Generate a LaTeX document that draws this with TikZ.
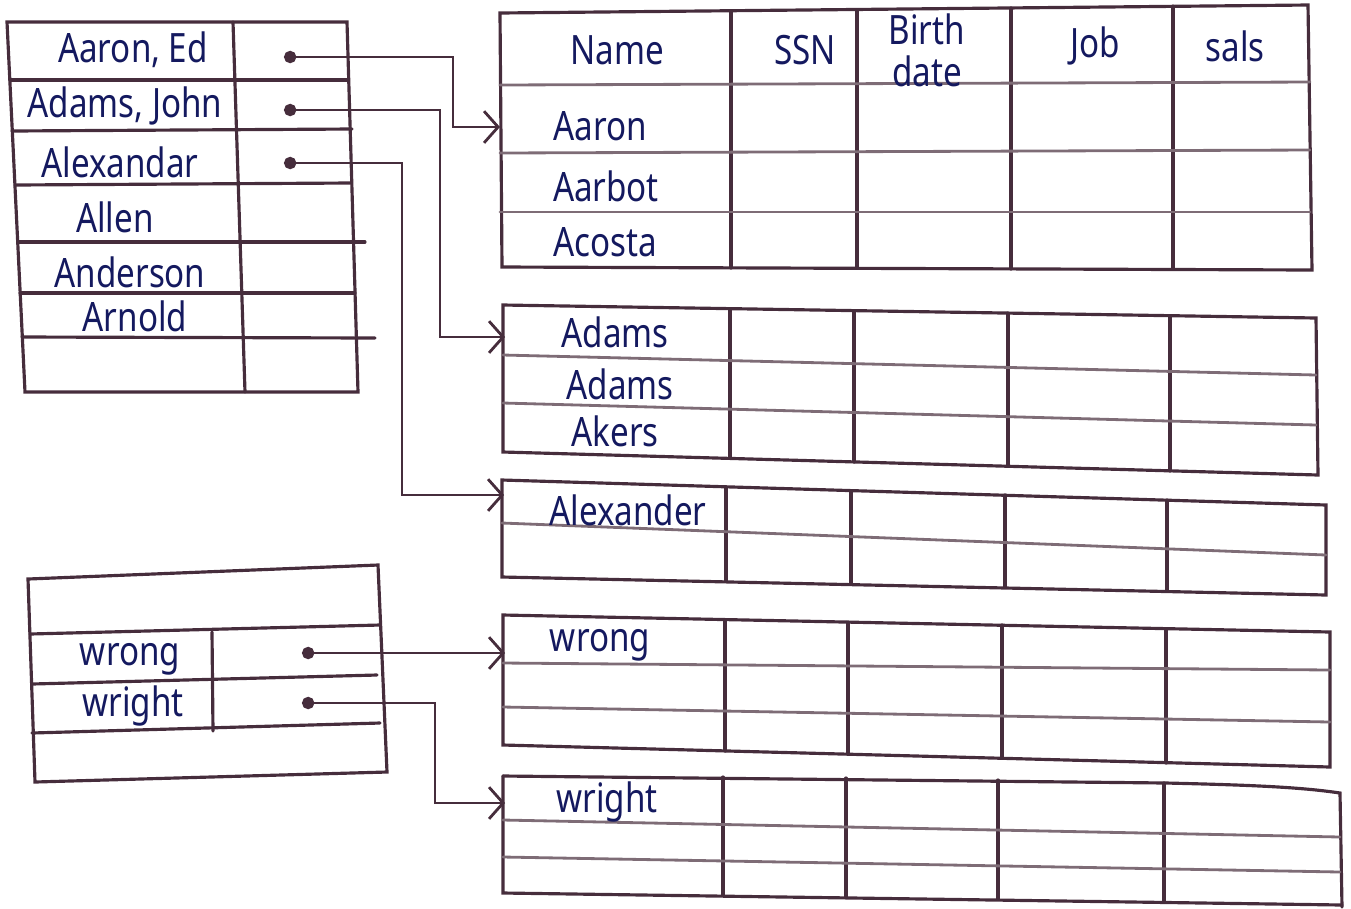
\documentclass[tikz,border=0pt]{standalone}
\usepackage{fontspec}
\newfontfamily\hand[FakeStretch=0.82]{Noto Sans}
\usetikzlibrary{arrows.meta, calc}
\definecolor{inkline}{RGB}{70,45,60}
\definecolor{inkblue}{RGB}{20,25,95}

\begin{document}
\begin{tikzpicture}[
  x=0.01cm, y=-0.01cm,
  tabline/.style={draw=inkline, line width=0.9pt, line cap=round},
  rowline/.style={draw=inkline!70, line width=0.8pt, line cap=round},
  entry/.style={font=\hand\fontsize{11.5}{12}\selectfont, text=inkblue, inner sep=0pt, align=center},
  ptrarrow/.style={{Circle[length=3.5pt]}-{Straight Barb[length=4pt, width=9pt]}, draw=inkline, line width=0.8pt},
]
\useasboundingbox (0,0) rectangle (1351,908);

% ---- index table (top left) ----
\draw[tabline] (7,22) -- (347,22) -- (358,392) -- (25,392) -- cycle;
\draw[tabline] (233,22) -- (245,392);
\foreach \xl/\yl/\xr/\yr in {10/80/348/80, 12/131/352/129, 15/185/350/183, 18/242/365/242, 20/293/355/293, 22/337/375/338}
  \draw[tabline] (\xl,\yl) -- (\xr,\yr);

\node[entry] (ix1) at (133,50) {Aaron, Ed};
\node[entry] (ix2) at (125,106) {Adams, John};
\node[entry] (ix3) at (120,162) {Alexandar};
\node[entry] (ix4) at (115,217) {Allen};
\node[entry] (ix5) at (130,272) {Anderson};
\node[entry] (ix6) at (135,316) {Arnold};

% ---- index table (bottom left) ----
\draw[tabline] (28,579) -- (378,565) -- (387,772) -- (35,782) -- cycle;
\draw[tabline] (212,632) -- (213,731);
\foreach \xl/\yl/\xr/\yr in {30/634/380/625, 32/684/377/675, 32/733/380/723}
  \draw[tabline] (\xl,\yl) -- (\xr,\yr);

\node[entry] (iw1) at (130,659) {wrong};
\node[entry] (iw2) at (133,706) {wright};

% ---- data table 1 ----
\draw[tabline] (500,13) -- (1308,5) -- (1312,270) -- (502,267) -- cycle;
\foreach \x/\yt/\yb in {731/12/268, 857/10/268, 1011/8/269, 1173/6/269}
  \draw[tabline] (\x,\yt) -- (\x,\yb);
\foreach \yl/\yr in {85/82, 153/150, 212/212}
  \draw[rowline] (500,\yl) -- (1310,\yr);

\node[entry] (hd1) at (617,50) {Name};
\node[entry] (hd2) at (805,50) {SSN};
\node[entry] (hd3) at (927,50) {Birth\\date};
\node[entry] (hd4) at (1095,46) {Job};
\node[entry] (hd5) at (1235,46) {sals};
\node[entry] (t1a) at (600,126) {Aaron};
\node[entry] (t1b) at (606,186) {Aarbot};
\node[entry] (t1c) at (605,242) {Acosta};

% ---- data table 2 ----
\draw[tabline] (503,305) -- (1316,318) -- (1318,475) -- (503,452) -- cycle;
\foreach \x/\yt/\yb in {730/309/458, 854/311/462, 1008/313/466, 1170/316/471}
  \draw[tabline] (\x,\yt) -- (\x,\yb);
\foreach \yl/\yr in {355/375, 403/425}
  \draw[rowline] (503,\yl) -- (1316,\yr);

\node[entry] (t2a) at (615,332) {Adams};
\node[entry] (t2b) at (620,384) {Adams};
\node[entry] (t2c) at (615,431) {Akers};

% ---- data table 3 ----
\draw[tabline] (502,480) -- (1326,505) -- (1326,595) -- (502,577) -- cycle;
\foreach \x/\yt/\yb in {726/487/581, 851/491/584, 1005/495/587, 1167/500/590}
  \draw[tabline] (\x,\yt) -- (\x,\yb);
\draw[rowline] (502,523) -- (1326,555);

\node[entry] (t3a) at (628,510) {Alexander};

% ---- data table 4 ----
\draw[tabline] (503,615) -- (1330,632) -- (1330,767) -- (503,745) -- cycle;
\foreach \x/\yt/\yb in {725/620/751, 848/622/754, 1002/625/758, 1166/629/763}
  \draw[tabline] (\x,\yt) -- (\x,\yb);
\foreach \yl/\yr in {663/670, 707/722}
  \draw[rowline] (503,\yl) -- (1330,\yr);

\node[entry] (t4a) at (600,645) {wrong};

% ---- data table 5 ----
\draw[tabline] (503,776) -- (1166,783) .. controls (1250,785) and (1300,787) .. (1340,793) -- (1342,907);
\draw[tabline] (503,776) -- (503,893) -- (1342,905);
\foreach \x/\yt/\yb in {723/777/895, 846/778/897, 998/780/899, 1164/783/901}
  \draw[tabline] (\x,\yt) -- (\x,\yb);
\foreach \yl/\yr in {820/837, 857/872}
  \draw[rowline] (503,\yl) -- (1340,\yr);

\node[entry] (t5a) at (607,802) {wright};

% ---- pointers ----
\coordinate (p1) at (284,57);
\coordinate (p2) at (284,110);
\coordinate (p3) at (284,163);
\coordinate (q1) at (302,653);
\coordinate (q2) at (302,703);
\coordinate (b1) at (453,57);
\coordinate (b2) at (440,110);
\coordinate (b3) at (402,163);
\coordinate (b5) at (435,703);
\coordinate (in1) at (500,127);
\coordinate (in2) at (505,337);
\coordinate (in3) at (504,495);
\coordinate (in4) at (505,653);
\coordinate (in5) at (505,803);

\draw[ptrarrow] (p1) -- (b1) |- (in1);
\draw[ptrarrow] (p2) -- (b2) |- (in2);
\draw[ptrarrow] (p3) -- (b3) |- (in3);
\draw[ptrarrow] (q1) -- (in4);
\draw[ptrarrow] (q2) -- (b5) |- (in5);

\end{tikzpicture}
\end{document}
